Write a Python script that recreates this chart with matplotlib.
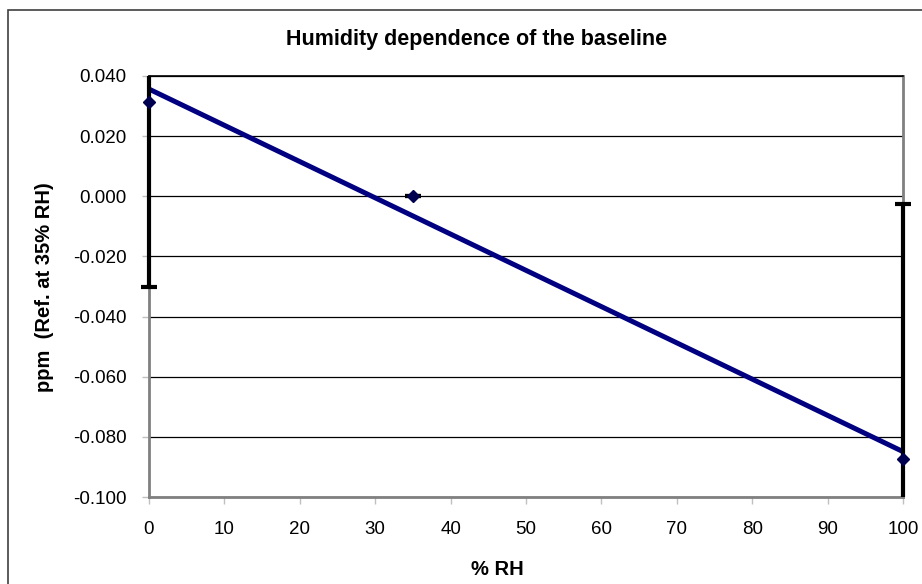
import numpy as np
import matplotlib.pyplot as plt
from matplotlib.patches import Rectangle

plt.rcParams['font.family'] = ['Liberation Sans', 'DejaVu Sans']

# measured baseline offsets (ppm, ref. at 35% RH)
rh = [0, 35, 100]
ppm = [0.0314, 0.0, -0.0872]
err = [0.0616, 0.0, 0.0845]

# tick values
xticks = list(range(0, 101, 10))
yticks = [-0.100, -0.080, -0.060, -0.040, -0.020, 0.000, 0.020, 0.040]

# linear trendline (as Excel computes it)
slope, intercept = np.polyfit(rh, ppm, 1)
trend_x = np.array([0, 100])
trend_y = slope * trend_x + intercept

fig = plt.figure(figsize=(9.22, 5.84), dpi=100)
ax = fig.add_axes([149 / 922, 1 - 497 / 584, 754 / 922, 421 / 584])

# chart outer border
fig.patches.append(Rectangle((8 / 922, -0.05), 1.1, 1 - 10 / 584 + 0.05,
                             transform=fig.transFigure, fill=False,
                             edgecolor='#404040', linewidth=1.2))

ax.plot(trend_x, trend_y, color='#000080', linewidth=3.6, zorder=3)
eb = ax.errorbar(rh, ppm, yerr=err, fmt='D', color='#000050', markersize=6,
                 ecolor='black', elinewidth=3, capsize=6, capthick=3, zorder=4)

# clip vertically at the plot area, but let bars at x=0/100 show full width
clip = Rectangle((-0.05, 0), 1.1, 1, transform=ax.transAxes,
                 facecolor='none', edgecolor='none')
ax.add_patch(clip)
for art in [eb.lines[0]] + list(eb.lines[1]) + list(eb.lines[2]):
    art.set_clip_path(clip)

ax.set_xlim(0, 100)
ax.set_ylim(-0.100, 0.040)
ax.set_xticks(xticks)
ax.set_yticks(yticks)
ax.set_yticklabels([f'{v:.3f}' for v in yticks])
ax.tick_params(direction='out', length=5, width=1, color='#c0c0c0',
               labelsize=13.5)
ax.tick_params(axis='x', pad=12)
ax.tick_params(axis='y', pad=11)

ax.yaxis.grid(True, color='black', linewidth=0.9)
ax.set_axisbelow(True)
for side in ['left', 'bottom', 'right']:
    ax.spines[side].set_color('#808080')
    ax.spines[side].set_linewidth(2)
ax.spines['top'].set_color('black')
ax.spines['top'].set_linewidth(1.2)

fig.text(477 / 922, 1 - 45 / 584, 'Humidity dependence of the baseline',
         ha='center', va='baseline', fontsize=15.5, fontweight='bold')
fig.text(497 / 922, 1 - 575 / 584, '% RH', ha='center', va='baseline',
         fontsize=14.5, fontweight='bold')
fig.text(45 / 922, 1 - 287 / 584, 'ppm  (Ref. at 35% RH)', ha='center',
         va='center', rotation=90, fontsize=14.5, fontweight='bold')

fig.savefig('out.png', dpi=100)
